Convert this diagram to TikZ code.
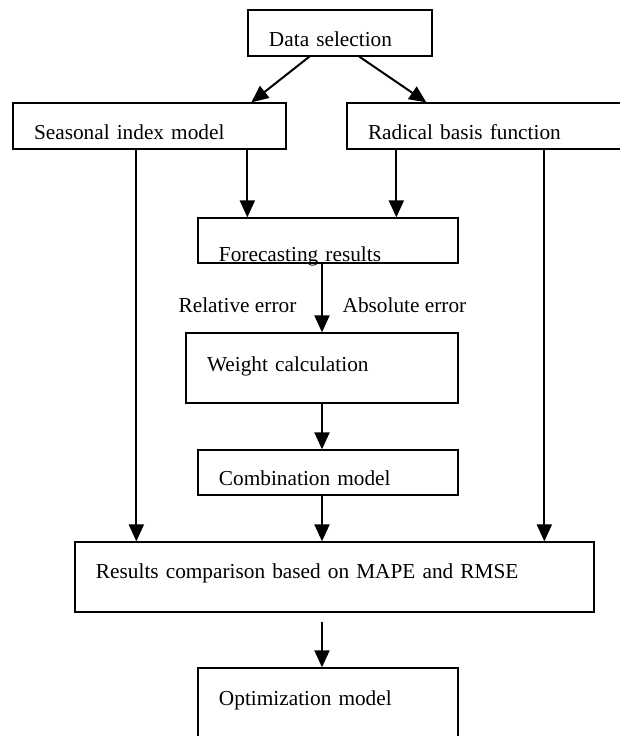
\documentclass[tikz,border=0pt]{standalone}
\usepackage{fontspec}
\setmainfont{Liberation Serif}
\usetikzlibrary{arrows.meta}
\usetikzlibrary{calc}

\begin{document}
\begin{tikzpicture}[x=0.5pt,y=-0.5pt,
    txt/.style={font=\fontsize{10.65}{13}\selectfont},
    box/.style={txt,draw,line width=0.65pt,rectangle,inner xsep=10.5pt,inner ysep=0pt,align=left,text depth=0pt},
    flow/.style={line width=1pt,-{Triangle[length=8.5pt,width=7.5pt]}}]
  \useasboundingbox (0,0) rectangle (620,736);
  \clip (0,0) rectangle (620,736);

  \node[box,text width=71pt,minimum height=23pt,text height=13.5pt] (data) at (340,33) {Data selection};
  \node[box,text width=115.5pt,minimum height=23pt,text height=13pt] (seasonal) at (149.5,126) {Seasonal index model};
  \node[box,text width=118pt,minimum height=23pt,text height=13pt] (radical) at (486,126) {Radical basis function};
  \node[box,text width=109pt,minimum height=22.5pt,text height=20.5pt] (forecast) at (328,240.5) {Forecasting results};
  \node[box,text width=115pt,minimum height=35pt,text height=3pt] (weight) at (322,368) {Weight calculation};
  \node[box,text width=109pt,minimum height=22.5pt,text height=12.5pt] (comb) at (328,472.5) {Combination model};
  \node[box,text width=238.5pt,minimum height=35pt,text height=1pt] (results) at (334.5,577) {Results comparison based on MAPE and RMSE};
  \node[box,text width=109pt,minimum height=35pt,text height=2pt] (optim) at (328,703) {Optimization model};

  % split from the data
  \draw[flow] ($(data.south west)+(62,0)$) -- ($(seasonal.north west)+(239,0)$);
  \draw[flow] ($(data.south west)+(112,0)$) -- ($(radical.north west)+(80,0)$);

  \coordinate (s1) at ($(seasonal.south west)+(124,0)$);
  \coordinate (s2) at ($(seasonal.south west)+(235,0)$);
  \coordinate (r1) at ($(radical.south west)+(50,0)$);
  \coordinate (r2) at ($(radical.south west)+(198,0)$);
  \draw[flow] (s1) -- (s1 |- results.north);
  \draw[flow] (s2) -- (s2 |- forecast.north);
  \draw[flow] (r1) -- (r1 |- forecast.north);
  \draw[flow] (r2) -- (r2 |- results.north);

  % main column
  \draw[flow] (forecast.south -| weight.north) -- (weight.north)
    node[txt,pos=0.6,left=9pt]{Relative error}
    node[txt,pos=0.6,right=6.5pt]{Absolute error};
  \draw[flow] (weight.south) -- (weight.south |- comb.north);
  \draw[flow] (weight.south |- comb.south) -- (weight.south |- results.north);
  \draw[flow,shorten <=4.5pt] (weight.south |- results.south) -- (weight.south |- optim.north);
\end{tikzpicture}
\end{document}
